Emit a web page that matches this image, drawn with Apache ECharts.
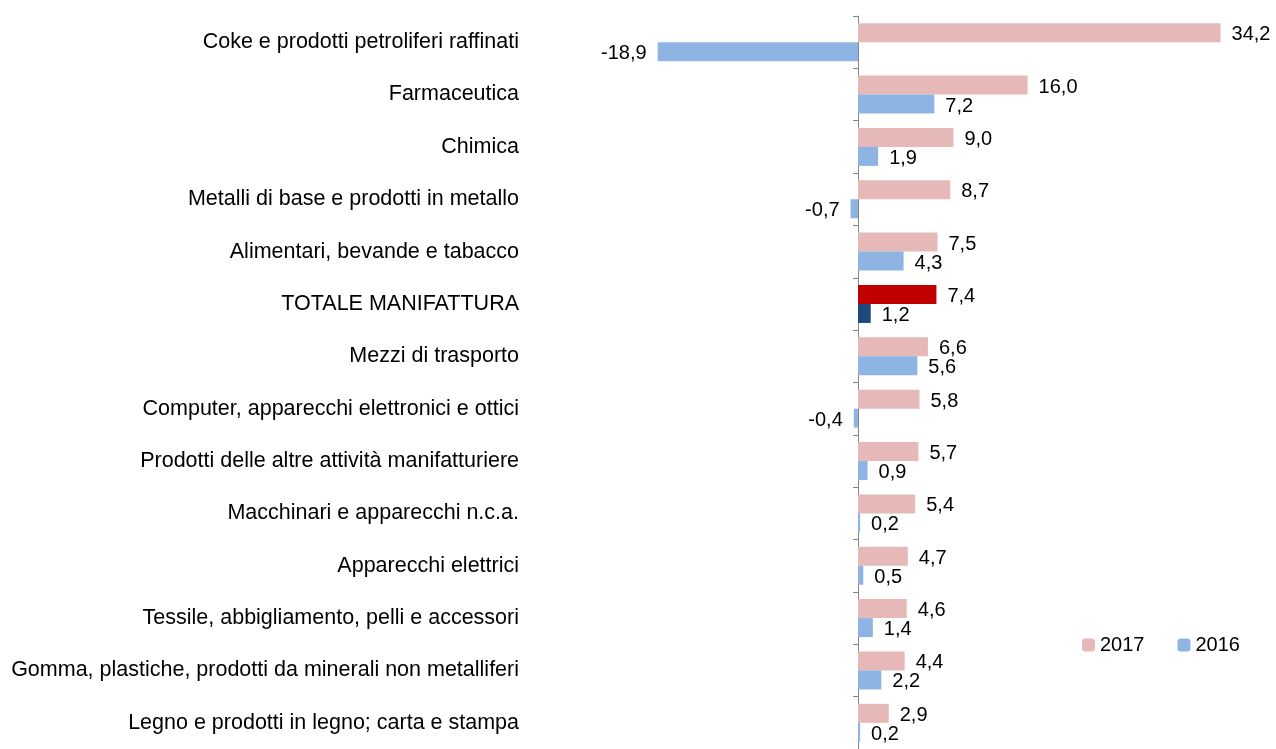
<!DOCTYPE html>
<html>
<head>
<meta charset="utf-8">
<script src="https://cdn.jsdelivr.net/npm/echarts@6/dist/echarts.min.js"></script>
<style>
html,body{margin:0;padding:0;background:#fff;}
#chart{width:1276px;height:749px;}
</style>
</head>
<body>
<div id="chart"></div>
<script>
var settori = [
    'Coke e prodotti petroliferi raffinati',
    'Farmaceutica',
    'Chimica',
    'Metalli di base e prodotti in metallo',
    'Alimentari, bevande e tabacco',
    'TOTALE MANIFATTURA',
    'Mezzi di trasporto',
    'Computer, apparecchi elettronici e ottici',
    'Prodotti delle altre attività manifatturiere',
    'Macchinari e apparecchi n.c.a.',
    'Apparecchi elettrici',
    'Tessile, abbigliamento, pelli e accessori',
    'Gomma, plastiche, prodotti da minerali non metalliferi',
    'Legno e prodotti in legno; carta e stampa'
];
var val2017 = [34.2, 16.0, 9.0, 8.7, 7.5, 7.4, 6.6, 5.8, 5.7, 5.4, 4.7, 4.6, 4.4, 2.9];
var val2016 = [-18.9, 7.2, 1.9, -0.7, 4.3, 1.2, 5.6, -0.4, 0.9, 0.2, 0.5, 1.4, 2.2, 0.2];
var totale = 'TOTALE MANIFATTURA';

var font = 'Liberation Sans';

function fmt(v){ return v.toFixed(1).replace('.', ','); }

function buildData(values, highlight){
    return values.map(function (v, i) {
        var item = {
            value: v,
            label: { position: v < 0 ? 'left' : 'right' }
        };
        if (settori[i] === totale) item.itemStyle = { color: highlight };
        return item;
    });
}

var myChart = echarts.init(document.getElementById('chart'));

var labelStyle = {
    show: true,
    distance: 11,
    offset: [0, 2],
    color: '#000',
    fontFamily: font,
    fontSize: 20,
    formatter: function (p) { return fmt(p.value); }
};

option = {
    animation: false,
    textStyle: { fontFamily: font },
    legend: {
        data: ['2017', '2016'],
        left: 1077,
        top: 630,
        itemWidth: 13,
        itemHeight: 13,
        itemGap: 33,
        textStyle: { fontSize: 20, color: '#000', fontFamily: font }
    },
    grid: {
        left: 540,
        right: 47,
        top: 16,
        bottom: 0
    },
    xAxis: {
        type: 'value',
        min: -30,
        max: 35,
        show: false
    },
    yAxis: [{
        type: 'category',
        data: settori,
        inverse: true,
        axisLine: { show: false, onZero: false },
        axisTick: { show: false },
        axisLabel: {
            margin: 21,
            color: '#000',
            fontFamily: font,
            fontSize: 21.5
        }
    }, {
        type: 'category',
        data: settori,
        inverse: true,
        position: 'left',
        axisLine: { onZero: true, lineStyle: { color: '#868686', width: 1 } },
        axisTick: { show: true, length: 5, lineStyle: { color: '#868686' } },
        axisLabel: { show: false }
    }],
    series: [{
        name: '2017',
        type: 'bar',
        barWidth: 19,
        barGap: '0%',
        itemStyle: { color: '#E6B9B8' },
        label: labelStyle,
        data: buildData(val2017, '#C00000')
    }, {
        name: '2016',
        type: 'bar',
        barWidth: 19,
        barGap: '0%',
        itemStyle: { color: '#8EB4E3' },
        label: labelStyle,
        data: buildData(val2016, '#1F497D')
    }]
};
myChart.setOption(option);
</script>
</body>
</html>
